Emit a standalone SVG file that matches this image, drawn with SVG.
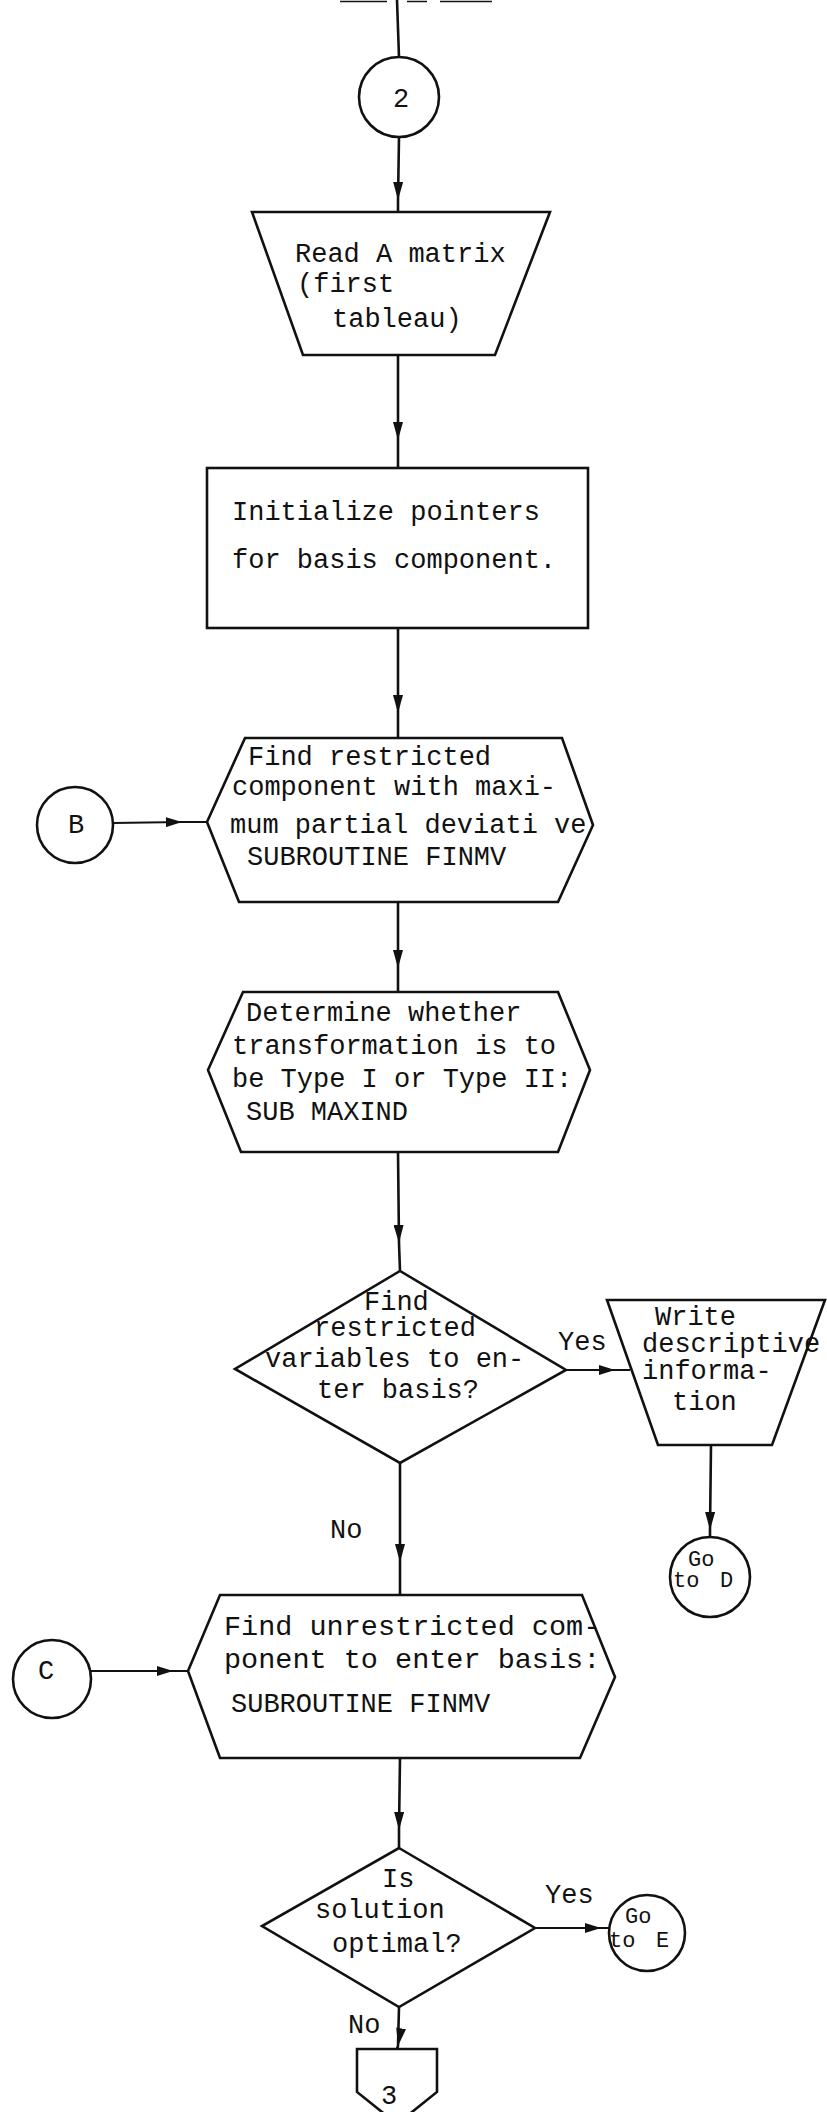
<svg xmlns="http://www.w3.org/2000/svg" width="827" height="2112" viewBox="0 0 827 2112">
  <defs>
    <style>
      .shape { fill: none; stroke: #111; stroke-width: 2.6; stroke-linejoin: miter; }
      .link { fill: none; stroke: #111; stroke-width: 2.6; marker-mid: url(#ah); }
      .linkh { fill: none; stroke: #111; stroke-width: 2.2; marker-mid: url(#ahs); }
      .plain { fill: none; stroke: #111; stroke-width: 2.6; }
      .t { font-family: "Liberation Mono", "Courier New", monospace; font-size: 27px; fill: #111; }
      .tl { font-family: "Liberation Mono", "Courier New", monospace; font-size: 28.5px; fill: #111; }
      .ts { font-family: "Liberation Mono", "Courier New", monospace; font-size: 22px; fill: #111; }
      .tc { text-anchor: middle; }
    </style>
    <marker id="ah" viewBox="0 0 18 10" refX="18" refY="5" markerWidth="18" markerHeight="10" markerUnits="userSpaceOnUse" orient="auto">
      <path d="M0,0 L18,5 L0,10 Z" fill="#111"/>
    </marker>
    <marker id="ahs" viewBox="0 0 16 10" refX="16" refY="5" markerWidth="16" markerHeight="10" markerUnits="userSpaceOnUse" orient="auto">
      <path d="M0,0 L16,5 L0,10 Z" fill="#111"/>
    </marker>
  </defs>

  <rect width="827" height="2112" fill="#fff"/>

  <!-- remnants of the preceding row at the sheet edge -->
  <g id="edge-marks" stroke="#111" stroke-width="1.5">
    <line x1="340" y1="1.5" x2="387" y2="1.5"/>
    <line x1="407" y1="1.5" x2="427" y2="1.5"/>
    <line x1="440" y1="1.5" x2="492" y2="1.5"/>
  </g>

  <!-- connectors -->
  <g id="connectors">
    <path class="plain" d="M397,0 L399,57"/>
    <path class="link" d="M399,137 L398,200 L398,212"/>
    <path class="link" d="M398,355 L398,440 L398,468"/>
    <path class="link" d="M398,628 L398,713 L398,738"/>
    <path class="link" d="M398,902 L398,968 L398,992"/>
    <path class="link" d="M398,1152 L399,1243 L400,1271"/>
    <path class="linkh" d="M113,823 L182,822 L207,822"/>
    <path class="linkh" d="M566,1370 L615,1370 L630,1370"/>
    <path class="link" d="M711,1445 L710,1530 L710,1537"/>
    <path class="link" d="M400,1463 L400,1562 L400,1595"/>
    <path class="linkh" d="M90,1671 L173,1671 L188,1671"/>
    <path class="link" d="M400,1758 L399,1830 L399,1848"/>
    <path class="linkh" d="M535,1928 L601,1928 L609,1928"/>
    <path class="link" d="M399,2007 L398,2046 L397,2049"/>
  </g>

  <!-- entry connector 2 -->
  <g id="conn-2">
    <circle class="shape" cx="399" cy="97" r="40"/>
    <text class="t tc" x="401" y="107">2</text>
  </g>

  <!-- input: read A matrix -->
  <g id="read-a">
    <polygon class="shape" points="252,212 550,212 495,355 303,355"/>
    <text class="t" x="295" y="262">Read A matrix</text>
    <text class="t" x="297" y="292">(first</text>
    <text class="t" x="332" y="327">tableau)</text>
  </g>

  <!-- initialize pointers -->
  <g id="init">
    <rect class="shape" x="207" y="468" width="381" height="160"/>
    <text class="t" x="232" y="520">Initialize pointers</text>
    <text class="t" x="232" y="568">for basis component.</text>
  </g>

  <!-- connector B -->
  <g id="conn-b">
    <circle class="shape" cx="75" cy="825" r="38"/>
    <text class="t tc" x="76" y="833">B</text>
  </g>

  <!-- find restricted component -->
  <g id="finmv-restricted">
    <polygon class="shape" points="245,738 562,738 593,825 558,902 239,902 207,822"/>
    <text class="t" x="248" y="765">Find restricted</text>
    <text class="t" x="232" y="795">component with maxi-</text>
    <text class="t" x="230" y="833">mum partial deviati ve</text>
    <text class="t" x="247" y="865">SUBROUTINE FINMV</text>
  </g>

  <!-- determine transformation type -->
  <g id="maxind">
    <polygon class="shape" points="243,992 558,992 590,1070 558,1152 241,1152 208,1070"/>
    <text class="t" x="246" y="1021">Determine whether</text>
    <text class="t" x="232" y="1054">transformation is to</text>
    <text class="t" x="232" y="1087">be Type I or Type II:</text>
    <text class="t" x="246" y="1120">SUB MAXIND</text>
  </g>

  <!-- decision: restricted variables -->
  <g id="dec-restricted">
    <polygon class="shape" points="400,1271 566,1370 400,1463 235,1369"/>
    <text class="t" x="364" y="1310">Find</text>
    <text class="t" x="314" y="1336">restricted</text>
    <text class="t" x="265" y="1367">variables to en-</text>
    <text class="t" x="317" y="1398">ter basis?</text>
    <text class="t" x="558" y="1350">Yes</text>
    <text class="t" x="330" y="1538">No</text>
  </g>

  <!-- output: descriptive information -->
  <g id="write-info">
    <polygon class="shape" points="607,1300 825,1300 772,1445 658,1445"/>
    <text class="t" x="655" y="1325">Write</text>
    <text class="t" x="642" y="1352">descriptive</text>
    <text class="t" x="642" y="1379">informa-</text>
    <text class="t" x="672" y="1410">tion</text>
  </g>

  <!-- go to D -->
  <g id="goto-d">
    <circle class="shape" cx="710" cy="1577" r="40"/>
    <text class="ts" x="688" y="1566">Go</text>
    <text class="ts" x="673" y="1587">to</text>
    <text class="ts" x="720" y="1587">D</text>
  </g>

  <!-- connector C -->
  <g id="conn-c">
    <circle class="shape" cx="52" cy="1679" r="39"/>
    <text class="t tc" x="46" y="1679">C</text>
  </g>

  <!-- find unrestricted component -->
  <g id="finmv-unrestricted">
    <polygon class="shape" points="220,1595 582,1595 615,1677 580,1758 220,1758 188,1671"/>
    <text class="tl" x="224" y="1635">Find unrestricted com-</text>
    <text class="tl" x="224" y="1668">ponent to enter basis:</text>
    <text class="t" x="231" y="1712">SUBROUTINE FINMV</text>
  </g>

  <!-- decision: optimal -->
  <g id="dec-optimal">
    <polygon class="shape" points="399,1848 535,1928 399,2007 262,1926"/>
    <text class="t" x="382" y="1887">Is</text>
    <text class="t" x="315" y="1918">solution</text>
    <text class="t" x="332" y="1952">optimal?</text>
    <text class="t" x="545" y="1903">Yes</text>
    <text class="t" x="348" y="2033">No</text>
  </g>

  <!-- go to E -->
  <g id="goto-e">
    <circle class="shape" cx="647" cy="1933" r="38"/>
    <text class="ts" x="625" y="1923">Go</text>
    <text class="ts" x="609" y="1947">to</text>
    <text class="ts" x="656" y="1947">E</text>
  </g>

  <!-- off-page connector 3 -->
  <g id="page-3">
    <polygon class="shape" points="357,2049 437,2049 437,2092 397,2124 357,2092"/>
    <text class="t" x="381" y="2104">3</text>
  </g>
</svg>
